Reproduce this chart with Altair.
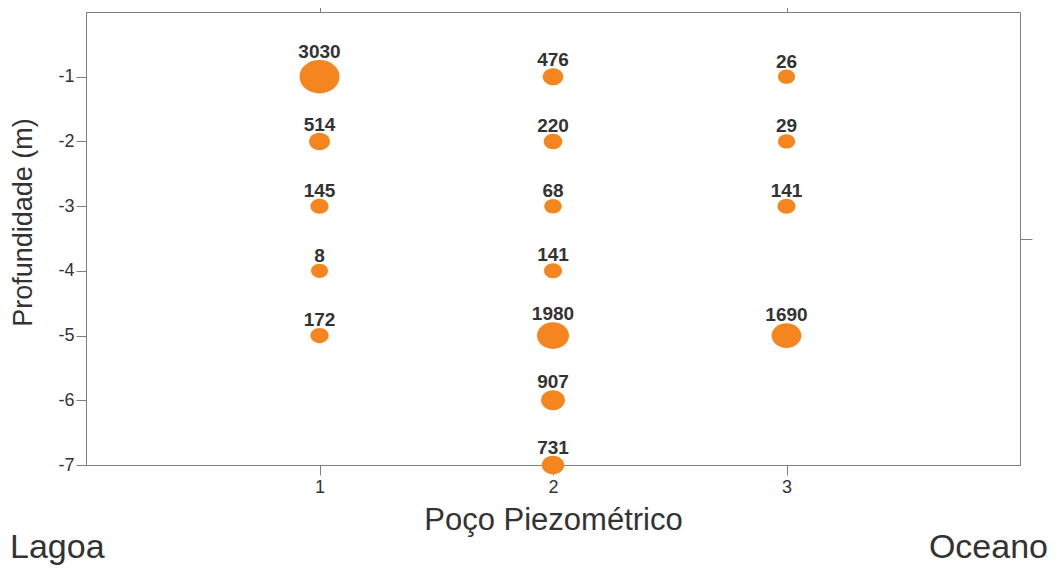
import altair as alt
import pandas as pd

# Data
poco = [1, 1, 1, 1, 1, 2, 2, 2, 2, 2, 2, 2, 3, 3, 3, 3]
profundidade = [-1, -2, -3, -4, -5, -1, -2, -3, -4, -5, -6, -7, -1, -2, -3, -5]
valor = [3030, 514, 145, 8, 172, 476, 220, 68, 141, 1980, 907, 731, 26, 29, 141, 1690]

x_ticks = [1, 2, 3]
y_ticks = [-1, -2, -3, -4, -5, -6, -7]

W, H = 934, 453
ORANGE = "#F5861F"
GRAY = "#7f7f7f"
TEXT = "#333333"
FONT = "Liberation Sans"
ELLIPSE = "M -1 0 A 1 0.833 0 1 0 1 0 A 1 0.833 0 1 0 -1 0 Z"

df = pd.DataFrame({"poco": poco, "prof": profundidade, "valor": valor})

x_scale = alt.Scale(domain=[0, 4], nice=False, zero=False)
y_scale = alt.Scale(domain=[-7, 0], nice=False, zero=False)

base = alt.Chart(df).transform_calculate(
    w="16.9 + 0.00763 * datum.valor",
    sz="datum.w * datum.w",
    ly=f"datum.prof + (datum.w / 2.4 + 2) * 7 / {H}",
)

points = base.mark_point(
    shape=ELLIPSE, filled=True, color=ORANGE, opacity=1, strokeWidth=0
).encode(
    x=alt.X("poco:Q", scale=x_scale,
            axis=alt.Axis(values=x_ticks, title="Poço Piezométrico", format="d",
                          labelFontSize=18, tickSize=10, labelPadding=3,
                          titleFontSize=31, titleFontWeight="normal", titlePadding=9,
                          grid=False)),
    y=alt.Y("prof:Q", scale=y_scale,
            axis=alt.Axis(values=y_ticks, title="Profundidade (m)",
                          labelExpr="'-' + abs(datum.value)",
                          labelFontSize=18, tickSize=10, labelPadding=2,
                          titleFontSize=27, titleFontWeight="normal",
                          titleX=-49, titleY=210, grid=False)),
    size=alt.Size("sz:Q", scale=None, legend=None),
)

labels = base.mark_text(
    baseline="alphabetic", align="center", font=FONT, fontSize=19,
    fontWeight="bold", color=TEXT
).encode(
    x=alt.X("poco:Q", scale=x_scale,
            axis=alt.Axis(orient="top", values=[1, 3], labels=False, title=None,
                          domain=False, tickSize=10, grid=False)),
    y=alt.Y("ly:Q", scale=y_scale,
            axis=alt.Axis(orient="right", values=[-3.5], labels=False, title=None,
                          domain=False, tickSize=12, grid=False)),
    text=alt.Text("valor:Q", format="d"),
)

lagoa = alt.Chart(pd.DataFrame({"t": ["Lagoa"]})).mark_text(
    align="left", baseline="alphabetic", font=FONT, fontSize=34, color=TEXT
).encode(x=alt.value(-76), y=alt.value(546), text="t:N")

oceano = alt.Chart(pd.DataFrame({"t": ["Oceano"]})).mark_text(
    align="right", baseline="alphabetic", font=FONT, fontSize=34, color=TEXT
).encode(x=alt.value(962), y=alt.value(546), text="t:N")

chart = alt.layer(points, labels, lagoa, oceano).resolve_axis(
    x="independent", y="independent"
).properties(
    width=W, height=H,
    autosize=alt.AutoSizeParams(type="none"),
    padding={"left": 78, "top": 4, "right": 30, "bottom": 104},
).configure_view(
    stroke=GRAY, strokeWidth=1
).configure_axis(
    domainColor=GRAY, tickColor=GRAY, labelColor=TEXT, titleColor=TEXT,
    labelFont=FONT, titleFont=FONT, domainWidth=1, tickWidth=1
)

chart.save("out.html", embed_options={"renderer": "svg", "actions": False})
